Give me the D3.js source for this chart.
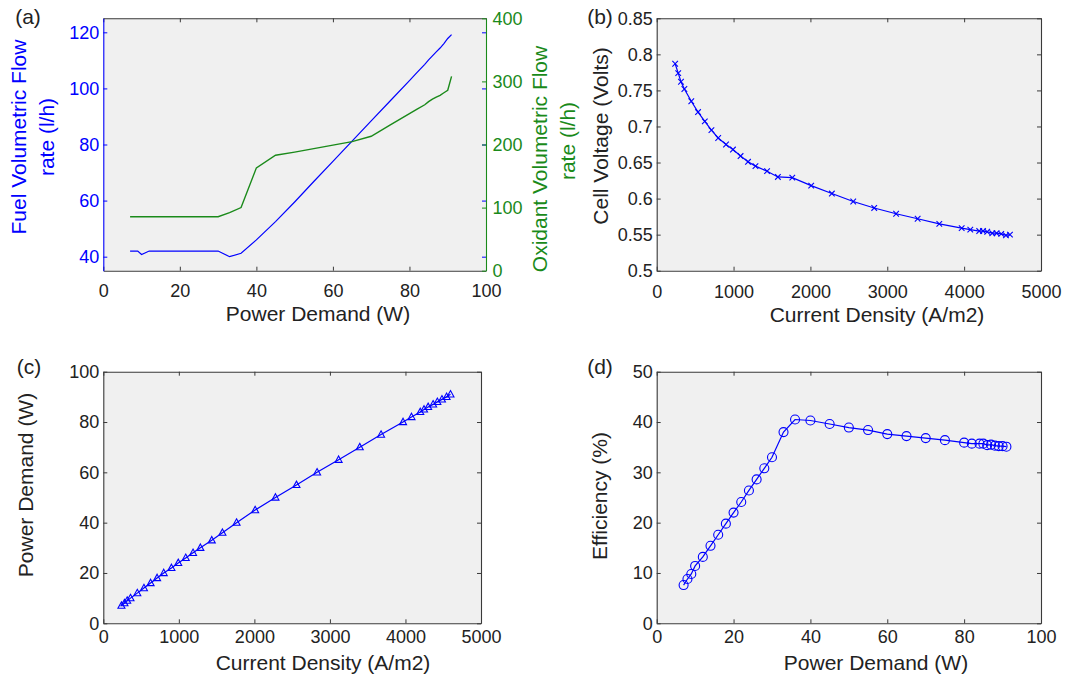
<!DOCTYPE html>
<html><head><meta charset="utf-8">
<script src="https://cdn.jsdelivr.net/npm/d3@7"></script>
<style>
body{margin:0;background:#fff;}
svg{display:block;font-family:"Liberation Sans",Arial,Helvetica,sans-serif;}
</style></head><body>
<svg id="chart" width="1069" height="676"></svg>
<script>
// ---- data ----
const power = [7,8,9,10,12,14,16,18,20,22,24,26,28,30,33,36,40,45,50,55,60,65,70,75,80,82,84,85,86,87,88,89,90,91];
const currentDensity = [240,280,316,360,450,538,626,712,800,902,992,1091,1188,1285,1436,1577,1764,2010,2279,2557,2830,3115,3395,3677,3968,4080,4196,4246,4300,4366,4422,4483,4544,4596];
const cellVoltage = [0.787,0.774,0.762,0.752,0.735,0.720,0.707,0.695,0.684,0.675,0.668,0.659,0.651,0.645,0.638,0.630,0.629,0.618,0.607,0.596,0.587,0.579,0.572,0.565,0.559,0.557,0.555,0.555,0.554,0.552,0.552,0.551,0.549,0.550];
const efficiency = [7.6,8.8,9.8,11.4,13.2,15.4,17.6,19.8,22.0,24.1,26.4,28.6,30.8,33.0,38.0,40.5,40.3,39.6,38.9,38.4,37.6,37.2,36.8,36.4,35.9,35.7,35.7,35.7,35.4,35.5,35.3,35.2,35.2,35.1];
const fuelFlow = [42,42,42,40.8,42,42,42,42,42,42,42,42,42,42,40,41.2,46,52.5,59.5,66.8,74,81.2,88.4,95.6,102.8,105.7,108.6,110.2,111.6,113,114.4,116,117.8,119.2];
const oxidantFlow = [85.6,85.6,85.6,85.6,85.6,85.6,85.6,85.6,85.6,85.6,85.6,85.6,85.6,85.6,92,100,163,183,188,193.5,199,204.5,213,231,249,256,263,268,272,275,278,282,286,308];

const powerTicks = [0,20,40,60,80,100];
const currentTicks = [0,1000,2000,3000,4000,5000];
const fuelTicks = [40,60,80,100,120];
const oxidantTicks = [0,100,200,300,400];
const voltageTicks = [0.5,0.55,0.6,0.65,0.7,0.75,0.8,0.85];
const powerDemandTicks = [0,20,40,60,80,100];
const efficiencyTicks = [0,10,20,30,40,50];

// ---- drawing ----
const svg = d3.select('#chart');
const BLUE = '#0000ff', GREEN = '#1a8a1a', DARK = '#222222', BOX = '#3a3a3a';
const FONT_TICK = '18px', FONT_LABEL = '21px';
const plain = d => String(+(+d).toFixed(2));

function styleAxis(sel, color, textColor){
  sel.selectAll('.domain').attr('stroke', color).attr('stroke-width', 1.1);
  sel.selectAll('.tick line').attr('stroke', color).attr('stroke-width', 1);
  sel.selectAll('.tick text').attr('fill', textColor || color).style('font-size', FONT_TICK);
}

function makePanel(o){
  const g = svg.append('g');
  const x = d3.scaleLinear().domain(o.xd).range([o.l, o.r]);
  const y = d3.scaleLinear().domain(o.yd).range([o.b, o.t]);
  g.append('rect').attr('x', o.l).attr('y', o.t).attr('width', o.r - o.l).attr('height', o.b - o.t).attr('fill', '#f0f0f0');
  const top = g.append('g').attr('transform', `translate(0,${o.t})`)
    .call(d3.axisTop(x).tickValues(o.xt).tickSize(-4).tickSizeOuter(0).tickFormat(''));
  styleAxis(top, BOX);
  const bot = g.append('g').attr('transform', `translate(0,${o.b})`)
    .call(d3.axisBottom(x).tickValues(o.xt).tickSize(-4).tickSizeOuter(0).tickPadding(o.xpad).tickFormat(plain));
  styleAxis(bot, BOX, DARK);
  const rt = g.append('g').attr('transform', `translate(${o.r},0)`)
    .call(d3.axisRight(y).tickValues(o.yt).tickSize(-4).tickSizeOuter(0).tickFormat(''));
  styleAxis(rt, o.rightColor || BOX);
  if (o.rightColor) rt.select('.domain').attr('stroke', 'none');
  const lf = g.append('g').attr('transform', `translate(${o.l},0)`)
    .call(d3.axisLeft(y).tickValues(o.yt).tickSize(-4).tickSizeOuter(0).tickPadding(4).tickFormat(plain));
  styleAxis(lf, o.leftColor || BOX, o.leftColor || DARK);
  return {g, x, y};
}

function label(txt, x, y, color, rot, size){
  const t = svg.append('text').attr('fill', color).style('font-size', size || FONT_LABEL)
    .attr('text-anchor', 'middle');
  if (rot) t.attr('transform', `translate(${x},${y}) rotate(-90)`).attr('dy', '0.35em');
  else t.attr('x', x).attr('y', y);
  t.text(txt);
  return t;
}

// (a)
const A = {l:103.3, r:486, t:18.3, b:270.7};
const pa = makePanel(Object.assign({xd:[0,100], yd:[35,125], xt:powerTicks, yt:fuelTicks, xpad:13.5,
  leftColor: BLUE, rightColor: BLUE}, A));
const yOx = d3.scaleLinear().domain([0,400]).range([A.b, A.t]);
const rax = svg.append('g').attr('transform', `translate(${A.r},0)`)
  .call(d3.axisRight(yOx).tickValues(oxidantTicks).tickSize(-4).tickSizeOuter(0).tickPadding(6.5).tickFormat(plain));
styleAxis(rax, GREEN);
const fuelLine = d3.line().x((d,i) => pa.x(power[i])).y(d => pa.y(d));
pa.g.append('path').datum(fuelFlow).attr('d', fuelLine).attr('fill','none').attr('stroke', BLUE).attr('stroke-width', 1.2);
const oxLine = d3.line().x((d,i) => pa.x(power[i])).y(d => yOx(d));
pa.g.append('path').datum(oxidantFlow).attr('d', oxLine).attr('fill','none').attr('stroke', GREEN).attr('stroke-width', 1.4);

// (b)
const pb = makePanel({l:656.7, r:1041, t:18.3, b:270.7, xd:[0,5000], yd:[0.5,0.85], xt:currentTicks, yt:voltageTicks, xpad:14.5});
const vLine = d3.line().x((d,i) => pb.x(currentDensity[i])).y(d => pb.y(d));
pb.g.append('path').datum(cellVoltage).attr('d', vLine).attr('fill','none').attr('stroke', BLUE).attr('stroke-width', 1.2);
pb.g.selectAll('path.xm').data(cellVoltage).enter().append('path').attr('class','xm')
  .attr('transform', (d,i) => `translate(${pb.x(currentDensity[i])},${pb.y(d)})`)
  .attr('d', 'M-2.8,-2.8L2.8,2.8M-2.8,2.8L2.8,-2.8').attr('stroke', BLUE).attr('stroke-width', 1.1).attr('fill','none');

// (c)
const pc = makePanel({l:103.3, r:481, t:371.7, b:623.3, xd:[0,5000], yd:[0,100], xt:currentTicks, yt:powerDemandTicks, xpad:7});
const pLine = d3.line().x((d,i) => pc.x(currentDensity[i])).y(d => pc.y(d));
pc.g.append('path').datum(power).attr('d', pLine).attr('fill','none').attr('stroke', BLUE).attr('stroke-width', 1.2);
pc.g.selectAll('path.tm').data(power).enter().append('path').attr('class','tm')
  .attr('transform', (d,i) => `translate(${pc.x(currentDensity[i])},${pc.y(d)})`)
  .attr('d', 'M0,-3.8L3.5,2.6L-3.5,2.6Z').attr('stroke', BLUE).attr('stroke-width', 1.1).attr('fill','none');

// (d)
const pd = makePanel({l:656.7, r:1041, t:371.7, b:623.3, xd:[0,100], yd:[0,50], xt:powerTicks, yt:efficiencyTicks, xpad:7});
const eLine = d3.line().x((d,i) => pd.x(power[i])).y(d => pd.y(d));
pd.g.append('path').datum(efficiency).attr('d', eLine).attr('fill','none').attr('stroke', BLUE).attr('stroke-width', 1.2);
pd.g.selectAll('circle.cm').data(efficiency).enter().append('circle').attr('class','cm')
  .attr('cx', (d,i) => pd.x(power[i])).attr('cy', d => pd.y(d)).attr('r', 4.5)
  .attr('stroke', BLUE).attr('stroke-width', 1.1).attr('fill','none');

// labels
label('(a)', 28, 24, DARK);
label('(b)', 600, 24, DARK);
label('(c)', 29, 374, DARK);
label('(d)', 600, 374, DARK);

label('Power Demand (W)', 318, 321, DARK);
label('Current Density (A/m2)', 877, 322, DARK);
label('Current Density (A/m2)', 323, 670, DARK);
label('Power Demand (W)', 876, 670, DARK);

label('Fuel Volumetric Flow', 19, 137, BLUE, true);
label('rate (l/h)', 46.6, 137, BLUE, true);
label('Oxidant Volumetric Flow', 540, 159, GREEN, true);
label('rate (l/h)', 567.6, 141, GREEN, true);
label('Cell Voltage (Volts)', 601, 136, DARK, true);
label('Power Demand (W)', 26, 485, DARK, true);
label('Efficiency (%)', 600, 496, DARK, true);
</script>
</body></html>
